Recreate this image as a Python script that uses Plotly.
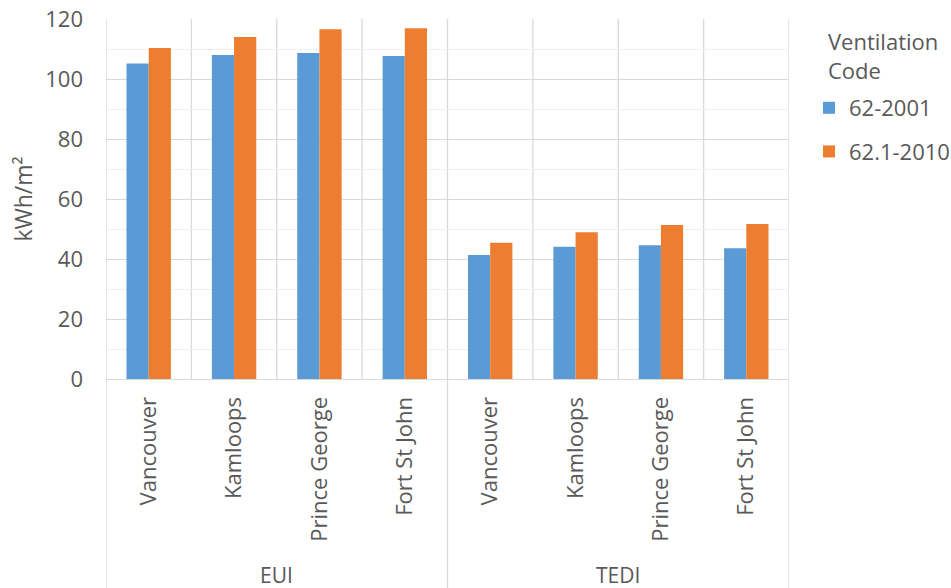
import plotly.graph_objects as go

# Energy intensity results by city and ventilation code
groups = ["EUI", "TEDI"]
cities = ["Vancouver", "Kamloops", "Prince George", "Fort St John",
          "Vancouver", "Kamloops", "Prince George", "Fort St John"]
vent_2001 = [105.2, 108.0, 108.7, 107.7, 41.3, 44.1, 44.6, 43.6]
vent_2010 = [110.3, 114.0, 116.6, 116.9, 45.4, 48.9, 51.3, 51.7]
series_names = ["62-2001", "62.1-2010"]
legend_title = "Ventilation<br>Code"
y_ticks = [0, 20, 40, 60, 80, 100, 120]

FONT = "Open Sans"
TXT = "#595959"
GRID = "#d9d9d9"
FS = 22
idx = list(range(len(cities)))

fig = go.Figure()
fig.add_trace(go.Bar(x=idx, y=vent_2001, name=series_names[0],
                     marker=dict(color="#5b9bd5", line=dict(width=0)),
                     legendgroup="a"))
fig.add_trace(go.Bar(x=idx, y=vent_2010, name=series_names[1],
                     marker=dict(color="#ed7d31", line=dict(width=0)),
                     legendgroup="b"))

shapes = []
# vertical separators between categories inside the plot
for k in range(len(cities) + 1):
    shapes.append(dict(type="line", xref="x", yref="paper",
                       x0=k - 0.5, x1=k - 0.5, y0=0, y1=1,
                       line=dict(color=GRID, width=1.3), layer="below"))
# group separators extending through the label area
n_per = len(cities) // len(groups)
for k in range(len(groups) + 1):
    xv = k * n_per - 0.5
    shapes.append(dict(type="line", xref="x", yref="paper",
                       x0=xv, x1=xv, y0=0, y1=-0.6,
                       line=dict(color=GRID, width=1.3)))

annotations = []
for g, name in enumerate(groups):
    annotations.append(dict(x=g * n_per + (n_per - 1) / 2, y=-0.545,
                            xref="x", yref="paper", text=name,
                            showarrow=False, yanchor="middle",
                            font=dict(family=FONT, size=FS - 1, color=TXT)))
# legend heading
annotations.append(dict(x=(826 - 106) / 683, y=(379 - 56) / 360,
                        xref="paper", yref="paper",
                        text=legend_title, showarrow=False,
                        xanchor="left", yanchor="middle", align="left",
                        font=dict(family=FONT, size=FS, color=TXT)))

fig.update_layout(
    width=951, height=588,
    margin=dict(l=106, r=162, t=19, b=209, autoexpand=False),
    paper_bgcolor="white", plot_bgcolor="white",
    barmode="group", bargap=0.48, bargroupgap=0,
    font=dict(family=FONT, size=FS, color=TXT),
    shapes=shapes, annotations=annotations,
    legend=dict(x=(809 - 106) / 683, xanchor="left",
                y=(379 - 87) / 360, yanchor="top",
                tracegroupgap=12, traceorder="grouped",
                font=dict(family=FONT, size=FS, color=TXT)),
    xaxis=dict(range=[-0.5, len(cities) - 0.5], tickmode="array",
               tickvals=idx, ticktext=cities, tickangle=-90,
               showgrid=False, zeroline=False, showline=True,
               linecolor=GRID, linewidth=1.3, ticks="",
               ticklabelstandoff=8, automargin=False,
               tickfont=dict(family=FONT, size=FS, color=TXT)),
    yaxis=dict(range=[0, 120], tickmode="array", tickvals=y_ticks,
               gridcolor=GRID, gridwidth=1.3, zeroline=False,
               showline=False, ticks="", ticklabelstandoff=22,
               automargin=False,
               minor=dict(dtick=10, showgrid=True, gridcolor="#f0f0f0",
                          gridwidth=1.3),
               title=dict(text="kWh/m²", standoff=6,
                          font=dict(family=FONT, size=FS + 1, color=TXT)),
               tickfont=dict(family=FONT, size=FS, color=TXT)),
)

fig.write_html("out.html")
